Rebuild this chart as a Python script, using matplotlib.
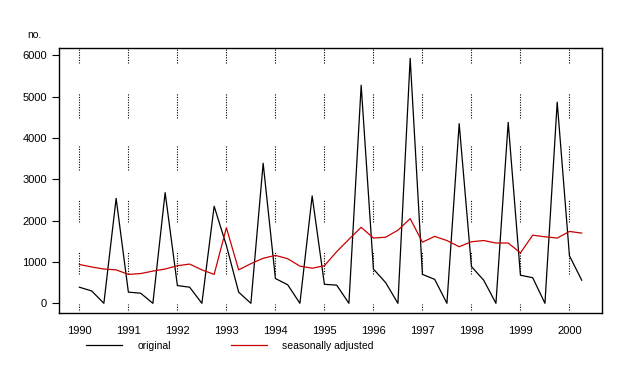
import numpy as np
from matplotlib import pyplot as plt

# quarterly observations, 1990 Q1 .. 2000 Q2
start_year = 1990
quarters_per_year = 4

original = [390, 300, 0, 2540,
            270, 245, 0, 2680,
            430, 390, 0, 2350,
            1400, 270, 0, 3390,
            600, 450, 0, 2600,
            460, 440, 0, 5280,
            830, 500, 0, 5930,
            700, 580, 0, 4350,
            890, 560, 0, 4380,
            680, 620, 0, 4870,
            1150, 560]

adjusted = [940, 880, 830, 810,
            700, 720, 780, 830,
            910, 950, 810, 700,
            1830, 810, 960, 1090,
            1160, 1080, 900, 850,
            910, 1250, 1550, 1840,
            1580, 1600, 1770, 2050,
            1480, 1620, 1520, 1370,
            1490, 1520, 1460, 1460,
            1220, 1650, 1610, 1580,
            1740, 1700]

years = list(range(1990, 2001))
yticks = [0, 1000, 2000, 3000, 4000, 5000, 6000]
labels = ['original', 'seasonally adjusted']

plt.rcParams['font.family'] = ['Liberation Sans', 'DejaVu Sans']
plt.rcParams['font.size'] = 7.5

t = start_year + np.arange(len(original)) / quarters_per_year

fig = plt.figure(figsize=(6.36, 3.71), dpi=100)
ax = fig.add_axes([0.0932, 0.1563, 0.947 - 0.0932, 0.8698 - 0.1563])

# broken dotted grid, drawn in bands like the original
bands = [(-170, -20), (700, 1250), (1975, 2500), (3230, 3830), (4480, 5100), (5810, 6174)]
for lo, hi in bands:
    ax.vlines(years, lo, hi, colors='k', linestyles=(0, (1, 1.3)), linewidth=0.8)

ax.plot(t, original, color='k', linewidth=0.9, label=labels[0])
ax.plot(t, adjusted, color='#c80000', linewidth=0.9, label=labels[1])

ax.set_xlim(1989.59, 2000.67)
ax.set_ylim(-235, 6174)
ax.set_xticks(years)
ax.set_yticks(yticks)
ax.tick_params(axis='x', length=0, pad=9, labelsize=8)
ax.tick_params(axis='y', length=5, width=0.8, direction='out', pad=4, labelsize=8)
for s in ax.spines.values():
    s.set_linewidth(1.0)

fig.text(27 / 636, 0.906, 'no.', ha='left', va='center')

fig.legend(loc='center left', bbox_to_anchor=(86 / 636, 0.067), ncol=2,
           frameon=False, borderpad=0, borderaxespad=0,
           handlelength=3.46, handletextpad=1.5, columnspacing=5.7)

plt.savefig('out.png', dpi=100)
plt.close()
